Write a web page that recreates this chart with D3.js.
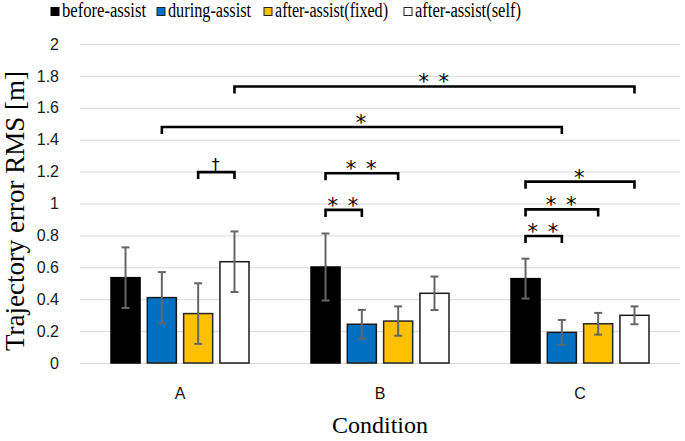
<!DOCTYPE html>
<html>
<head>
<meta charset="utf-8">
<script src="https://cdn.jsdelivr.net/npm/d3@7"></script>
<style>
  body { margin: 0; background: #fff; }
  svg { display: block; }
</style>
</head>
<body>
<div id="chart"></div>
<script>
// data
var categories = ["A", "B", "C"];
var seriesNames = ["before-assist", "during-assist", "after-assist(fixed)", "after-assist(self)"];
var beforeMean = [0.535, 0.602, 0.529];
var duringMean = [0.41, 0.243, 0.192];
var fixedMean  = [0.31, 0.263, 0.246];
var selfMean   = [0.635, 0.437, 0.299];
var beforeErr = [0.19, 0.21, 0.125];
var duringErr = [0.16, 0.09, 0.078];
var fixedErr  = [0.19, 0.092, 0.068];
var selfErr   = [0.19, 0.105, 0.056];
var yTicks = [0, 0.2, 0.4, 0.6, 0.8, 1, 1.2, 1.4, 1.6, 1.8, 2];
// significance brackets: from [category, series] to [category, series], height in data units
var sigFrom  = [["A", 2], ["B", 0], ["B", 0], ["C", 0], ["C", 0], ["C", 0], ["A", 1], ["A", 3]];
var sigTo    = [["A", 3], ["B", 1], ["B", 2], ["C", 1], ["C", 2], ["C", 3], ["C", 1], ["C", 3]];
var sigLevel = [1.197, 0.96, 1.19, 0.796, 0.963, 1.137, 1.48, 1.734];
var sigLabel = ["\u2020", "* *", "* *", "* *", "* *", "*", "*", "* *"];

var means = [beforeMean, duringMean, fixedMean, selfMean];
var errs = [beforeErr, duringErr, fixedErr, selfErr];
var colours = ["#000000", "#0070C0", "#FFC000", "#FFFFFF"];
var strokes = ["#000000", "#1a1a1a", "#262626", "#1a1a1a"];

var width = 685, height = 441;
var margin = {top: 44, right: 5, bottom: 78, left: 80};

var svg = d3.select("#chart").append("svg")
    .attr("width", width)
    .attr("height", height);

// scales
var x0 = d3.scaleBand().domain(categories).range([margin.left, width - margin.right]).padding(0);
var x1 = d3.scaleBand().domain(d3.range(seriesNames.length))
    .range([31, x0.bandwidth() - 31]).paddingInner(0.2);
var y = d3.scaleLinear().domain([0, 2]).range([height - margin.bottom, margin.top]);

function cx(c, s) { return x0(c) + x1(s) + x1.bandwidth() / 2; }

// gridlines + y labels
var yAxis = svg.append("g")
    .attr("transform", "translate(" + margin.left + ",0)")
    .call(d3.axisLeft(y).tickValues(yTicks).tickFormat(d3.format("~g"))
      .tickSize(-(width - margin.left - margin.right)).tickPadding(21));
yAxis.select(".domain").remove();
yAxis.selectAll(".tick line").attr("stroke", "#d9d9d9").attr("stroke-width", 1);
yAxis.selectAll(".tick text")
    .attr("fill", "#1a1a1a")
    .style("font-family", "'Liberation Sans', Arial, sans-serif")
    .style("font-size", "16px");

// bars
var groups = svg.selectAll(".grp")
    .data(categories)
  .enter().append("g")
    .attr("class", "grp");

function rows(c, ci) {
  return means.map(function(m, s) { return {c: c, s: s, v: m[ci], e: errs[s][ci]}; });
}

groups.selectAll("rect")
    .data(rows)
  .enter().append("rect")
    .attr("x", function(d) { return x0(d.c) + x1(d.s); })
    .attr("y", function(d) { return y(d.v); })
    .attr("width", x1.bandwidth())
    .attr("height", function(d) { return y(0) - y(d.v); })
    .attr("fill", function(d) { return colours[d.s]; })
    .attr("stroke", function(d) { return strokes[d.s]; })
    .attr("stroke-width", 1.5);

// error bars
var eb = groups.selectAll(".err")
    .data(rows)
  .enter().append("g")
    .attr("class", "err")
    .attr("stroke", "#666")
    .attr("stroke-width", 2);
eb.append("line")
    .attr("x1", function(d) { return cx(d.c, d.s); })
    .attr("x2", function(d) { return cx(d.c, d.s); })
    .attr("y1", function(d) { return y(d.v + d.e); })
    .attr("y2", function(d) { return y(d.v - d.e); });
eb.append("line")
    .attr("x1", function(d) { return cx(d.c, d.s) - 4; })
    .attr("x2", function(d) { return cx(d.c, d.s) + 4; })
    .attr("y1", function(d) { return y(d.v + d.e); })
    .attr("y2", function(d) { return y(d.v + d.e); });
eb.append("line")
    .attr("x1", function(d) { return cx(d.c, d.s) - 4; })
    .attr("x2", function(d) { return cx(d.c, d.s) + 4; })
    .attr("y1", function(d) { return y(d.v - d.e); })
    .attr("y2", function(d) { return y(d.v - d.e); });

// category labels
svg.append("g")
  .selectAll("text")
    .data(categories)
  .enter().append("text")
    .attr("x", function(c) { return x0(c) + x0.bandwidth() / 2; })
    .attr("y", 399)
    .attr("text-anchor", "middle")
    .style("font-family", "'Liberation Sans', Arial, sans-serif")
    .style("font-size", "16px")
    .attr("fill", "#111")
    .text(function(c) { return c; });

// significance brackets
var sig = svg.append("g").selectAll("g")
    .data(sigLevel.map(function(l, i) { return {from: sigFrom[i], to: sigTo[i], level: l, label: sigLabel[i]}; }))
  .enter().append("g");
sig.append("path")
    .attr("fill", "none")
    .attr("stroke", "#000")
    .attr("stroke-width", 2.6)
    .attr("d", function(d) {
      var xa = cx(d.from[0], d.from[1]), xb = cx(d.to[0], d.to[1]), yy = y(d.level);
      return "M" + xa + "," + (yy + 7) + "V" + yy + "H" + xb + "V" + (yy + 7);
    });
sig.append("text")
    .attr("x", function(d) { return (cx(d.from[0], d.from[1]) + cx(d.to[0], d.to[1])) / 2; })
    .attr("y", function(d) { return y(d.level) - (d.label === "\u2020" ? 2 : -3); })
    .attr("text-anchor", "middle")
    .style("font-family", "'DejaVu Sans', sans-serif")
    .style("font-size", function(d) { return d.label === "\u2020" ? "16px" : "21px"; })
    .style("letter-spacing", "1.5px")
    .text(function(d) { return d.label; });

// legend
var legX = [51, 157, 264, 404];
var legLen = [84, 83, 113, 106];
var leg = svg.append("g").selectAll("g")
    .data(seriesNames)
  .enter().append("g")
    .attr("transform", function(d, i) { return "translate(" + legX[i] + ",0)"; });
leg.append("rect")
    .attr("x", 0).attr("y", 7.5)
    .attr("width", 8).attr("height", 8)
    .attr("fill", function(d, i) { return colours[i]; })
    .attr("stroke", function(d, i) { return i === 0 ? "#000" : "#222"; })
    .attr("stroke-width", 1);
leg.append("text")
    .attr("x", 11).attr("y", 17)
    .attr("textLength", function(d, i) { return legLen[i]; })
    .attr("lengthAdjust", "spacingAndGlyphs")
    .style("font-family", "'Liberation Serif', 'Times New Roman', serif")
    .style("font-size", "20.5px")
    .text(function(d) { return d; });

// axis titles
svg.append("text")
    .attr("transform", "translate(24," + 211 + ")rotate(-90)")
    .attr("text-anchor", "middle")
    .style("font-family", "'Liberation Serif', 'Times New Roman', serif")
    .style("font-size", "27px")
    .text("Trajectory error RMS [m]");

svg.append("text")
    .attr("x", 380).attr("y", 433)
    .attr("text-anchor", "middle")
    .style("font-family", "'Liberation Serif', 'Times New Roman', serif")
    .style("font-size", "24px")
    .text("Condition");
</script>
</body>
</html>
